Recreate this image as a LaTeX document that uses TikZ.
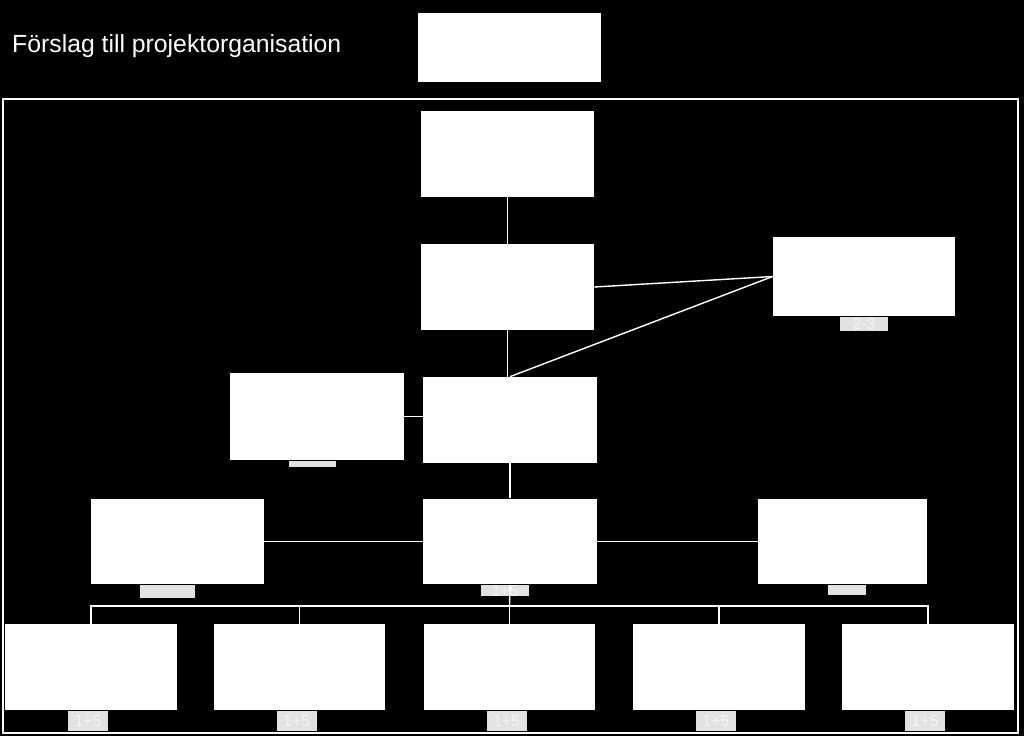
\documentclass[tikz,border=0pt]{standalone}
\usepackage{fontspec}
\setmainfont{Liberation Sans}
\usetikzlibrary{positioning}
\definecolor{tabgray}{RGB}{226,226,226}
\definecolor{tabtext}{RGB}{244,244,244}

\begin{document}
\begin{tikzpicture}[x=0.02cm,y=-0.02cm,
    box/.style={fill=white,minimum width=3.46cm,minimum height=1.72cm,inner sep=0pt},
    tab/.style={fill=tabgray,inner sep=0pt,anchor=north,text=tabtext,font=\fontsize{9}{9}\selectfont},
    link/.style={draw=white,line width=0.8pt}]
\fill[black] (0,0) rectangle (1024,736);
\useasboundingbox (0,0) rectangle (1024,736);

\node[anchor=west,text=white,font=\fontsize{14.1}{17}\selectfont] (title) at (6,46) {Förslag till projektorganisation};
\node[box,minimum width=3.66cm,minimum height=1.38cm] (top) at (509.5,47.5) {};
\draw[white,line width=1.1pt] (3,99) rectangle (1018,733);

% upper chain
\node[box] (A) at (507.5,154) {};
\node[box] (B) at (507.5,287) {};
\node[box,minimum width=3.64cm,minimum height=1.58cm] (R) at (864,276.5) {};
\node[tab,minimum width=0.96cm,minimum height=0.28cm] (Rt) at (R.south) {2-3};
\node[box,minimum width=3.48cm] (C) at (510,420) {};
\node[box,minimum width=3.48cm,minimum height=1.74cm] (L) at (317,416.5) {};
\node[tab,minimum width=0.94cm,minimum height=0.12cm,xshift=-0.09cm] (Lt) at (L.south) {};

% middle row
\node[box,minimum width=3.48cm] (D) at (510,541.5) {};
\node[tab,minimum width=0.96cm,minimum height=0.22cm,xshift=-0.1cm] (Dt) at (D.south) {1+5};
\node[box] (DL) at (177.5,541.5) {};
\node[tab,minimum width=1.1cm,minimum height=0.26cm,xshift=-0.2cm] (DLt) at (DL.south) {};
\node[box,minimum width=3.38cm] (DR) at (842.5,541.5) {};
\node[tab,minimum width=0.76cm,minimum height=0.2cm,xshift=0.09cm] (DRt) at (DR.south) {};

% bottom row
\foreach \x [count=\n] in {91,299.5,509.5,719,928} {
  \node[box,minimum width=3.44cm] (N\n) at (\x,667) {};
  \node[tab,minimum width=0.8cm,minimum height=0.4cm,xshift=-0.06cm] (T\n) at (N\n.south) {1+5};
}

\coordinate (bus) at (509.5,606);

\path[link] (A.south) edge (B.north)
  (B.east) edge (R.west)
  (R.west) edge (C.north)
  (B.south) edge (B.south |- C.north)
  (L.east) edge (C.west |- L.east)
  (C.south) edge (D.north)
  (DL.east) edge (D.west)
  (D.east) edge (DR.west)
  (D.south) edge (bus);
\draw[link] (N1.north) |- (bus) -| (N5.north);
\foreach \n in {2,3,4}
  \draw[link] (N\n.north) -- (N\n.north |- bus);
\end{tikzpicture}
\end{document}
